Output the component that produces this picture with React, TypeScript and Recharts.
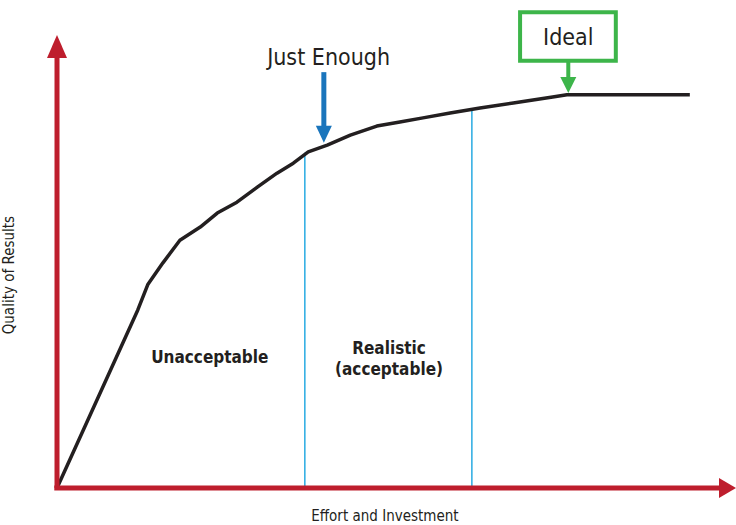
import { LineChart, Line, XAxis, YAxis, ReferenceLine, ReferenceDot, ReferenceArea } from 'recharts'

// effort (x) vs quality of results (y), both on a 0-100 scale
const effort = [0, 11.9, 13.4, 15.6, 18.1, 21.1, 23.6, 26.5, 29.5, 32.4, 34.8, 37.0, 39.8, 43.2, 47.1, 50.5, 53.9, 57.9, 62.3, 67.2, 73.0, 75.1, 93.2]
const quality = [0, 39.3, 45.0, 49.7, 54.7, 57.6, 60.7, 63.1, 66.4, 69.5, 71.7, 74.2, 75.7, 77.9, 79.9, 80.8, 81.7, 82.8, 83.9, 85.0, 86.3, 86.8, 86.8]

// zone boundaries
const justEnoughX = 36.5
const justEnoughTop = 74.0
const realisticX = 61.1
const realisticTop = 83.7

const data = effort.map((x, i) => ({ x, y: quality[i] }))

const FONT = "'Liberation Sans Narrow', 'DejaVu Sans Condensed', Roboto, sans-serif"
const RED = '#be1e2d'
const INK = '#231f20'

function Arrow(props: any) {
  const { x1, y1, x2, y2, stroke, width, head, headLen } = props
  const dx = x2 - x1
  const dy = y2 - y1
  const len = Math.sqrt(dx * dx + dy * dy) || 1
  const ux = dx / len
  const uy = dy / len
  const bx = x2 - ux * headLen
  const by = y2 - uy * headLen
  const px = -uy * head
  const py = ux * head
  return (
    <g>
      <line x1={x1} y1={y1} x2={bx + ux * 2} y2={by + uy * 2} stroke={stroke} strokeWidth={width} />
      <polygon points={`${x2},${y2} ${bx + px},${by + py} ${bx - px},${by - py}`} fill={stroke} />
    </g>
  )
}

function Label(props: any) {
  const { cx, cy, lines, size, weight, rotate, color } = props
  return (
    <text
      x={cx}
      y={cy}
      textAnchor="middle"
      fontFamily={FONT}
      fontSize={size}
      fontWeight={weight || 'normal'}
      fill={color || INK}
      transform={rotate ? `rotate(${rotate} ${cx} ${cy})` : undefined}
    >
      {lines.map((l: string, i: number) => (
        <tspan key={i} x={cx} dy={i === 0 ? 0 : size * 1.2}>{l}</tspan>
      ))}
    </text>
  )
}

export default function App() {
  return (
    <div style={{ position: 'absolute', left: 0, top: 0, width: 736, height: 525, background: '#fff' }}>
      <LineChart width={736} height={525} data={data} margin={{ top: 35, right: 0, bottom: 37, left: 57 }}>
        <XAxis dataKey="x" type="number" domain={[0, 100]} hide />
        <YAxis type="number" domain={[0, 100]} hide />

        <ReferenceLine segment={[{ x: justEnoughX, y: 0 }, { x: justEnoughX, y: justEnoughTop }]} stroke="#29abe2" strokeWidth={1.5} />
        <ReferenceLine segment={[{ x: realisticX, y: 0 }, { x: realisticX, y: realisticTop }]} stroke="#29abe2" strokeWidth={1.5} />

        <Line type="linear" dataKey="y" stroke={INK} strokeWidth={3.5} dot={false} isAnimationActive={false} strokeLinejoin="round" />

        {/* axes with arrowheads */}
        <ReferenceLine ifOverflow="visible" segment={[{ x: 0, y: 0 }, { x: 0, y: 100 }]}
          shape={(p: any) => <Arrow {...p} stroke={RED} width={5} head={10} headLen={23} />} />
        <ReferenceLine ifOverflow="visible" segment={[{ x: -0.4, y: 0 }, { x: 100, y: 0 }]}
          shape={(p: any) => <Arrow {...p} stroke={RED} width={5} head={10} headLen={17} />} />

        {/* annotations */}
        <ReferenceLine ifOverflow="visible" segment={[{ x: 39.3, y: 91.8 }, { x: 39.3, y: 76.2 }]}
          shape={(p: any) => <Arrow {...p} stroke="#1a75bc" width={5} head={8} headLen={17} />} />
        <ReferenceDot ifOverflow="visible" x={40} y={93.4} r={0}
          shape={(p: any) => <Label {...p} lines={['Just Enough']} size={23} />} />

        <ReferenceLine ifOverflow="visible" segment={[{ x: 75.3, y: 94.2 }, { x: 75.3, y: 87.2 }]}
          shape={(p: any) => <Arrow {...p} stroke="#3db54a" width={4} head={8} headLen={16} />} />
        <ReferenceArea ifOverflow="visible" x1={68.2} x2={82.3} y1={94.3} y2={105.0}
          fill="#fff" fillOpacity={1} stroke="#3db54a" strokeWidth={4} />
        <ReferenceDot ifOverflow="visible" x={75.3} y={97.8} r={0}
          shape={(p: any) => <Label {...p} lines={['Ideal']} size={23} />} />

        <ReferenceDot ifOverflow="visible" x={22.5} y={27.5} r={0}
          shape={(p: any) => <Label {...p} lines={['Unacceptable']} size={17} weight="bold" />} />
        <ReferenceDot ifOverflow="visible" x={48.9} y={29.5} r={0}
          shape={(p: any) => <Label {...p} lines={['Realistic', '(acceptable)']} size={17} weight="bold" />} />

        <ReferenceDot ifOverflow="visible" x={48.3} y={-7.3} r={0}
          shape={(p: any) => <Label {...p} lines={['Effort and Investment']} size={15} />} />
        <ReferenceDot ifOverflow="visible" x={-6.3} y={47} r={0}
          shape={(p: any) => <Label {...p} lines={['Quality of Results']} size={15} rotate={-90} />} />
      </LineChart>
    </div>
  )
}
